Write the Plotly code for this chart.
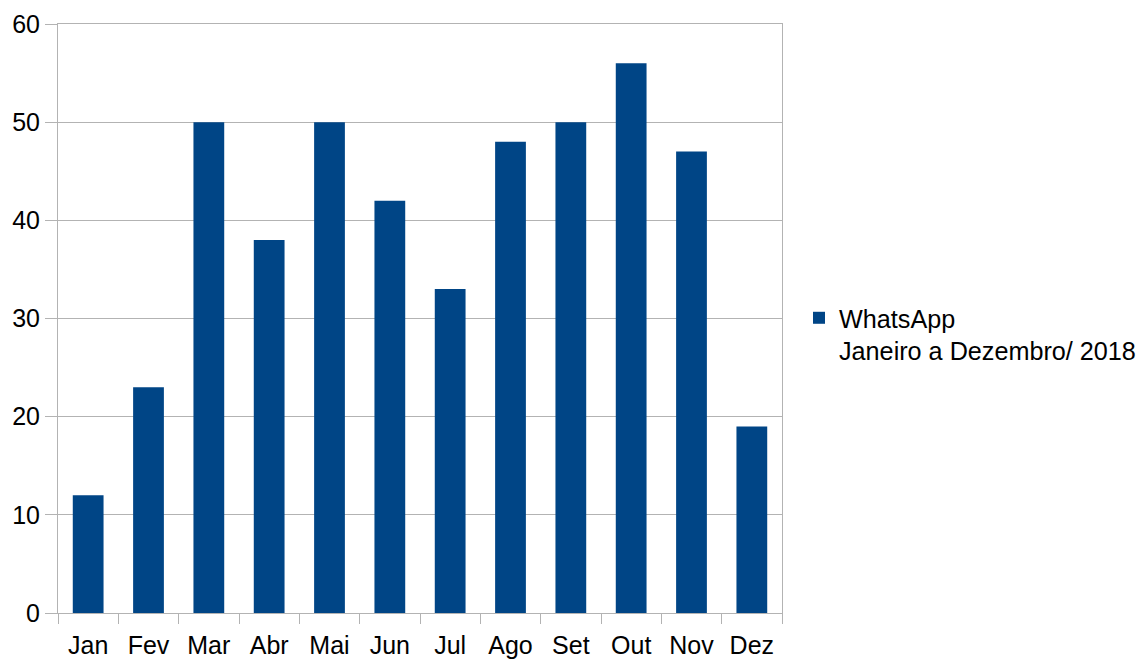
import plotly.graph_objs as go

# Data
meses = ['Jan', 'Fev', 'Mar', 'Abr', 'Mai', 'Jun', 'Jul', 'Ago', 'Set', 'Out', 'Nov', 'Dez']
mensagens = [12, 23, 50, 38, 50, 42, 33, 48, 50, 56, 47, 19]
serie_nome = 'WhatsApp<br>Janeiro a Dezembro/ 2018'

grid = '#b3b3b3'

fig = go.Figure()

fig.add_trace(go.Bar(x=meses, y=mensagens, name=serie_nome,
                     marker=dict(color='#004586', line=dict(width=0)),
                     showlegend=True))

# page body adds an 8px margin, so the figure is sized to fit inside it
fig.update_layout(
    width=1139, height=654,
    margin=dict(l=50, r=365, t=16, b=49, autoexpand=False),
    paper_bgcolor='white', plot_bgcolor='white',
    font=dict(family='Liberation Sans', size=25, color='black'),
    bargap=0.49,
    legend=dict(x=1.0235, y=0.473, xanchor='left', yanchor='middle', valign='top',
                font=dict(size=25.2), bgcolor='rgba(0,0,0,0)'),
)

fig.update_xaxes(showgrid=False, showline=True, linecolor=grid, linewidth=1, mirror=True,
                 ticks='outside', tickson='boundaries', ticklen=10, tickcolor=grid,
                 ticklabelstandoff=10, tickfont=dict(size=25), automargin=False)
fig.update_yaxes(range=[0, 60], dtick=10, showgrid=True, gridcolor=grid, gridwidth=1,
                 showline=True, linecolor=grid, linewidth=1, mirror=True,
                 ticks='outside', ticklen=12, tickcolor=grid, zeroline=False,
                 tickfont=dict(size=25), automargin=False)

fig.write_html("out.html")
